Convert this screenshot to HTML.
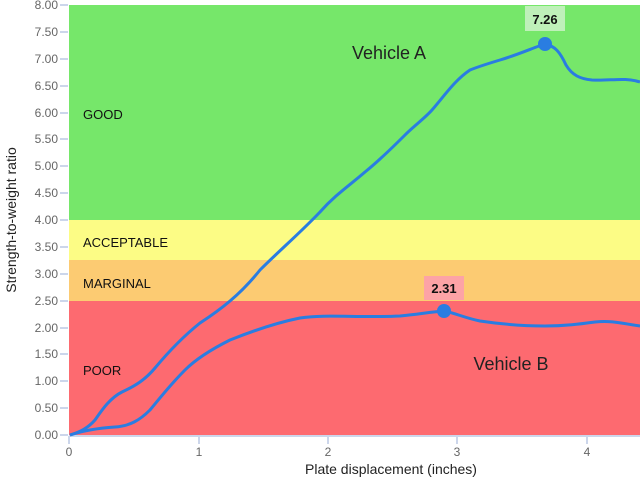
<!DOCTYPE html>
<html><head><meta charset="utf-8"><style>body{margin:0;background:#fff}svg{display:block}</style></head><body>
<svg width="640" height="480" xmlns="http://www.w3.org/2000/svg" font-family="Liberation Sans, sans-serif">
<rect x="69" y="5" width="571" height="215" fill="#76e76a"/>
<rect x="69" y="220" width="571" height="40" fill="#fcfc85"/>
<rect x="69" y="260" width="571" height="41" fill="#fccb72"/>
<rect x="69" y="301" width="571" height="134" fill="#fd6a70"/>
<line x1="69" y1="436" x2="640" y2="436" stroke="#ccd6eb" stroke-width="2"/>
<g stroke="#ccd6eb" stroke-width="2">
<line x1="60" y1="5" x2="68" y2="5"/><line x1="60" y1="32" x2="68" y2="32"/><line x1="60" y1="59" x2="68" y2="59"/><line x1="60" y1="86" x2="68" y2="86"/><line x1="60" y1="113" x2="68" y2="113"/><line x1="60" y1="139" x2="68" y2="139"/><line x1="60" y1="166" x2="68" y2="166"/><line x1="60" y1="193" x2="68" y2="193"/><line x1="60" y1="220" x2="68" y2="220"/><line x1="60" y1="247" x2="68" y2="247"/><line x1="60" y1="274" x2="68" y2="274"/><line x1="60" y1="301" x2="68" y2="301"/><line x1="60" y1="328" x2="68" y2="328"/><line x1="60" y1="354" x2="68" y2="354"/><line x1="60" y1="381" x2="68" y2="381"/><line x1="60" y1="408" x2="68" y2="408"/><line x1="60" y1="435" x2="68" y2="435"/>
<line x1="69" y1="436" x2="69" y2="444"/><line x1="199" y1="436" x2="199" y2="444"/><line x1="328" y1="436" x2="328" y2="444"/><line x1="457" y1="436" x2="457" y2="444"/><line x1="587" y1="436" x2="587" y2="444"/>
</g>
<g fill="#666" font-size="12" text-anchor="end">
<text x="58" y="9">8.00</text><text x="58" y="36">7.50</text><text x="58" y="63">7.00</text><text x="58" y="90">6.50</text><text x="58" y="117">6.00</text><text x="58" y="143">5.50</text><text x="58" y="170">5.00</text><text x="58" y="197">4.50</text><text x="58" y="224">4.00</text><text x="58" y="251">3.50</text><text x="58" y="278">3.00</text><text x="58" y="305">2.50</text><text x="58" y="332">2.00</text><text x="58" y="358">1.50</text><text x="58" y="385">1.00</text><text x="58" y="412">0.50</text><text x="58" y="439">0.00</text>
</g>
<g fill="#666" font-size="12" text-anchor="middle">
<text x="69" y="456">0</text><text x="199" y="456">1</text><text x="328" y="456">2</text><text x="457" y="456">3</text><text x="587" y="456">4</text>
</g>
<text x="391" y="474" font-size="14" fill="#222" text-anchor="middle">Plate displacement (inches)</text>
<text transform="translate(16,220) rotate(-90)" font-size="14" fill="#222" text-anchor="middle">Strength-to-weight ratio</text>
<g font-size="13" fill="#111">
<text x="83" y="119">GOOD</text><text x="83" y="247">ACCEPTABLE</text><text x="83" y="288">MARGINAL</text><text x="83" y="375">POOR</text>
</g>
<text x="389" y="59" font-size="18" fill="#222" text-anchor="middle">Vehicle A</text>
<text x="511" y="370" font-size="18" fill="#222" text-anchor="middle">Vehicle B</text>
<path d="M70,435 C80,432 88,428 95,420 C102,410 110,398 122,392 C135,386 145,380 155,368 C170,350 185,335 200,323 C220,310 240,295 260,270 C280,250 300,233 320,212 C335,195 350,185 365,172 C380,160 395,145 405,135 C415,125 425,118 432,110 C445,95 455,80 470,70 C480,66 490,63 500,60 C520,54 535,47 545,44 C555,46 560,52 566,65 C572,75 580,79 592,80 C610,81 625,77 640,82" fill="none" stroke="#2a7de1" stroke-width="3"/>
<path d="M70,435 C85,430 100,428 115,427 C130,426 140,420 150,410 C160,398 170,385 185,370 C195,360 210,350 230,340 C255,330 280,322 300,318 C325,314 360,318 400,316 C420,314 430,312 444,311 C455,313 465,318 480,321 C500,324 520,326 545,326 C565,326 580,324 595,322 C612,320 625,324 640,326" fill="none" stroke="#2a7de1" stroke-width="3"/>
<circle cx="545" cy="44" r="7" fill="#2a7de1"/>
<circle cx="444" cy="311" r="7" fill="#2a7de1"/>
<rect x="525" y="6" width="40" height="25" fill="#bff0b9"/>
<text x="545" y="24" font-size="13" font-weight="bold" fill="#111" text-anchor="middle">7.26</text>
<rect x="424" y="276" width="40" height="24" fill="#fda3a6"/>
<text x="444" y="293" font-size="13" font-weight="bold" fill="#111" text-anchor="middle">2.31</text>
</svg>
</body></html>
